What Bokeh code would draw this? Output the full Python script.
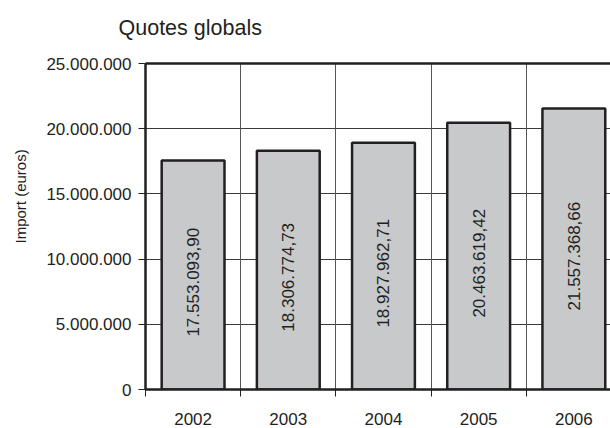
import math
from bokeh.plotting import figure
from bokeh.models import FixedTicker, LinearAxis, Title, Range1d, Grid, ColumnDataSource
from bokeh.embed import file_html
from bokeh.resources import INLINE
from bokeh.core.properties import value

# ---- data ----
years = ["2002", "2003", "2004", "2005", "2006"]
imports = [17553093.90, 18306774.73, 18927962.71, 20463619.42, 21557368.66]
value_labels = ["17.553.093,90", "18.306.774,73", "18.927.962,71", "20.463.619,42", "21.557.368,66"]
y_ticks = [0, 5000000, 10000000, 15000000, 20000000, 25000000]
y_tick_labels = ["0", "5.000.000", "10.000.000", "15.000.000", "20.000.000", "25.000.000"]
title_text = "Quotes globals"
y_title = "Import (euros)"

FONT = "Liberation Sans"
INK = "#231f20"

xc = [i + 0.5 for i in range(len(years))]
bounds = [float(i) for i in range(len(years))]
label_y = [v / 2 - 550000 for v in imports]

src = ColumnDataSource(dict(x=xc, top=imports, ly=label_y, lab=value_labels))

p = figure(width=610, height=428, output_backend="svg", toolbar_location=None,
           x_range=Range1d(0, 4.885), y_range=Range1d(0, 25000000),
           min_border_left=145, min_border_right=0, min_border_top=63, min_border_bottom=39,
           x_axis_type=None, y_axis_type=None)
p.outline_line_color = None
p.background_fill_color = "white"
p.border_fill_color = "white"

# grids
p.add_layout(Grid(dimension=1, ticker=FixedTicker(ticks=y_ticks[1:-1]),
                  grid_line_color="#3a3a3a", grid_line_width=1))
p.add_layout(Grid(dimension=0, ticker=FixedTicker(ticks=bounds[1:]),
                  grid_line_color="#555555", grid_line_width=1))

# bars
p.vbar(x="x", top="top", bottom=0, width=0.66, source=src,
       fill_color="#c8c9cb", line_color=INK, line_width=2.5)

# bar value labels
p.text(x="x", y="ly", text="lab", source=src, angle=math.pi / 2,
       text_align="center", text_baseline="middle",
       text_font=value(FONT), text_font_size="17px", text_color=INK)

# axes
xaxis = LinearAxis(ticker=FixedTicker(ticks=xc, minor_ticks=bounds),
                   major_label_overrides={x: y for x, y in zip(xc, years)},
                   major_tick_out=0, major_tick_in=0,
                   minor_tick_out=7, minor_tick_in=0,
                   minor_tick_line_color=INK, minor_tick_line_width=1,
                   axis_line_width=2.5, axis_line_color=INK,
                   major_label_standoff=16, major_label_text_font=FONT,
                   major_label_text_font_size="17px", major_label_text_color=INK)
p.add_layout(xaxis, "below")

yaxis = LinearAxis(ticker=FixedTicker(ticks=y_ticks),
                   major_label_overrides={t: s for t, s in zip(y_ticks, y_tick_labels)},
                   major_tick_out=7, major_tick_in=0,
                   minor_tick_out=0, minor_tick_in=0,
                   major_tick_line_color=INK, major_tick_line_width=1,
                   axis_line_width=2.5, axis_line_color=INK,
                   major_label_standoff=7, major_label_text_font=FONT,
                   major_label_text_font_size="17px", major_label_text_color=INK)
p.add_layout(yaxis, "left")

# invisible spacer on the left (pushes the y title outward)
left_spacer = LinearAxis(ticker=FixedTicker(ticks=[12500000]),
                         major_label_overrides={12500000: ""},
                         major_tick_out=8, major_tick_in=0,
                         minor_tick_out=0, minor_tick_in=0, axis_line_color=None,
                         major_tick_line_color=None, major_label_standoff=0,
                         major_label_text_font_size="0px")
p.add_layout(left_spacer, "left")

# top border line, with invisible extent that lifts the title
top_axis = LinearAxis(ticker=FixedTicker(ticks=[0.5]),
                      major_label_overrides={0.5: ""},
                      major_tick_out=23, major_tick_in=0,
                      minor_tick_out=0, minor_tick_in=0, major_tick_line_color=None,
                      axis_line_width=2.5, axis_line_color=INK, major_label_standoff=0,
                      major_label_text_font_size="0px")
p.add_layout(top_axis, "above")

# title and y-axis label
p.add_layout(Title(text=title_text, align="left", offset=-27, text_font=FONT,
                   text_font_size="21.5px", text_font_style="normal", text_color=INK,
                   standoff=2), "above")
p.add_layout(Title(text=y_title, align="left", offset=146, text_font=FONT,
                   text_font_size="15px", text_font_style="normal", text_color=INK,
                   standoff=14), "left")

open("out.html", "w").write(file_html(p, INLINE))
